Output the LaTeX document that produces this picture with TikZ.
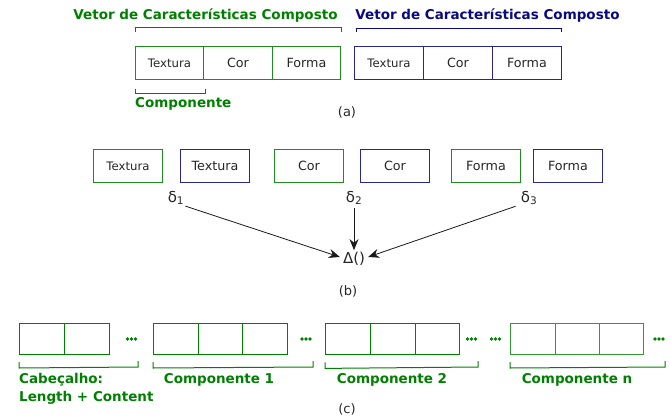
\documentclass[tikz,border=0pt]{standalone}
\usepackage{fontspec}
\setmainfont{DejaVu Sans}
\usetikzlibrary{arrows.meta}
\definecolor{vgreen}{RGB}{0,128,0}
\definecolor{vgreenbox}{RGB}{30,140,30}
\definecolor{vblue}{RGB}{10,10,128}
\definecolor{vbluebox}{RGB}{40,40,140}
\tikzset{
  cell/.style={draw, line width=1pt, minimum height=33pt, inner sep=0pt, anchor=north west,
    font=\fontsize{12.7}{15}\selectfont, text=black!85},
  gcell/.style={cell, draw=vgreenbox},
  bcell/.style={cell, draw=vbluebox},
  smalltext/.style={font=\fontsize{11.7}{14}\selectfont},
  ccell/.style={draw=vgreen, line width=1pt, minimum height=31pt, minimum width=45pt,
    inner sep=0pt, anchor=north west},
  title/.style={font=\fontsize{13.5}{16}\bfseries\selectfont},
  gtitle/.style={title, text=vgreen},
  btitle/.style={title, text=vblue},
  caption/.style={font=\fontsize{13}{15}\selectfont, text=black!85},
  gbrack/.style={draw=vgreen, line width=1pt},
  bbrack/.style={draw=vblue, line width=1pt},
  dlabel/.style={font=\fontsize{15}{17}\selectfont, inner sep=1pt, text=black!85},
  arr/.style={-{Stealth[length=11pt,width=9pt]}, line width=0.8pt, black!90},
  dots/.style={fill=vgreen},
}
\begin{document}
\begin{tikzpicture}[x=1pt, y=-1pt]
\useasboundingbox (0,0) rectangle (670,418);

% ---------- (a) composite feature vectors ----------
\node[gtitle] (gt) at (205.5,16) {Vetor de Características Composto};
\node[btitle] (bt) at (487.5,16) {Vetor de Características Composto};

\node[gcell, minimum width=68pt, smalltext] (ga1) at (135,46) {Textura};
\node[gcell, minimum width=69pt] (ga2) at (203,46) {Cor};
\node[gcell, minimum width=68pt] (ga3) at (272,46) {Forma};

\node[bcell, minimum width=69pt, smalltext] (ba1) at (354,46) {Textura};
\node[bcell, minimum width=69pt] (ba2) at (423,46) {Cor};
\node[bcell, minimum width=69pt] (ba3) at (492,46) {Forma};

\draw[gbrack] ([yshift=14pt]ga1.north west) -- ++(0,-5) -| ([yshift=14pt]ga3.north east);
\draw[bbrack] ([xshift=2pt,yshift=14pt]ba1.north west) -- ++(0,-4) -| ([xshift=-1pt,yshift=14pt]ba3.north east);
\draw[gbrack] ([yshift=-9pt]ga1.south west) -- ++(0,4) -| ([xshift=1pt,yshift=-9pt]ga1.south east);
\node[gtitle, anchor=west, inner sep=0pt] (comp) at (135,104) {Componente};
\node[caption] (capa) at (347,112) {(a)};

% ---------- (b) component-wise distances ----------
\node[gcell, minimum width=69pt, smalltext] (gb1) at (93,149) {Textura};
\node[bcell, minimum width=69pt] (bb1) at (180,149) {Textura};
\node[gcell, minimum width=69pt] (gb2) at (274,149) {Cor};
\node[bcell, minimum width=69pt] (bb2) at (360,149) {Cor};
\node[gcell, minimum width=69pt] (gb3) at (451,149) {Forma};
\node[bcell, minimum width=69pt] (bb3) at (533,149) {Forma};

\node[dlabel] (d1) at (176,198) {δ\textsubscript{1}};
\node[dlabel] (d2) at (354,198) {δ\textsubscript{2}};
\node[dlabel] (d3) at (529,198) {δ\textsubscript{3}};
\node[dlabel, inner sep=2pt] (D) at (354,259) {Δ()};

\draw[arr] ([xshift=0pt,yshift=0pt]d1.south east) -- ([xshift=-1pt,yshift=2pt]D.west);
\draw[arr] ([yshift=-2pt]d2.south) -- (D.north);
\draw[arr] ([xshift=-4pt,yshift=0pt]d3.south west) -- ([xshift=1pt,yshift=2pt]D.east);
\node[caption] (capb) at (348,291) {(b)};

% ---------- (c) serialized layout ----------
\node[ccell] (h1) at (19,323) {};
\node[ccell] (h2) at (64,323) {};

\node[ccell] (c11) at (153,323) {};
\node[ccell, minimum width=44pt] (c12) at (198,323) {};
\node[ccell] (c13) at (242,323) {};

\node[ccell, line width=1.4pt] (c21) at (325,323) {};
\node[ccell, line width=1.4pt] (c22) at (370,323) {};
\node[ccell, line width=1.4pt, minimum width=44pt] (c23) at (415,323) {};

\node[ccell, draw=vgreen!80] (cn1) at (510,323) {};
\node[ccell, draw=vgreen!80, minimum width=44pt] (cn2) at (555,323) {};
\node[ccell, draw=vgreen!80, minimum width=44pt] (cn3) at (599,323) {};

\foreach \x in {127.5,131.5,135.5, 302,306,310, 467.5,471.5,475.5, 491.5,495.5,499.5, 655,659,663}
  \fill[dots] (\x,339) circle (1.8pt);

\draw[gbrack] ([yshift=-7pt]h1.south west) -- ++(0,6) -- (138,367) -- ++(0,-6);
\draw[gbrack] ([yshift=-7pt]c11.south west) -- ++(0,6) -- (313,367) -- ++(0,-6);
\draw[gbrack] ([yshift=-7pt]c21.south west) -- ++(0,6) -- (478,367) -- ++(0,-6);
\draw[gbrack] ([yshift=-7pt]cn1.south west) -- ++(0,6) -- (665,367) -- ++(0,-6);

\node[gtitle, anchor=west, inner sep=0pt] (hl1) at (19,380) {Cabeçalho:};
\node[gtitle, anchor=west, inner sep=0pt] (hl2) at (19,398) {Length + Content};
\node[gtitle] (cl1) at (219,380) {Componente 1};
\node[gtitle] (cl2) at (392,380) {Componente 2};
\node[gtitle] (cln) at (577,380) {Componente n};
\node[caption] (capc) at (347,409) {(c)};
\end{tikzpicture}
\end{document}
